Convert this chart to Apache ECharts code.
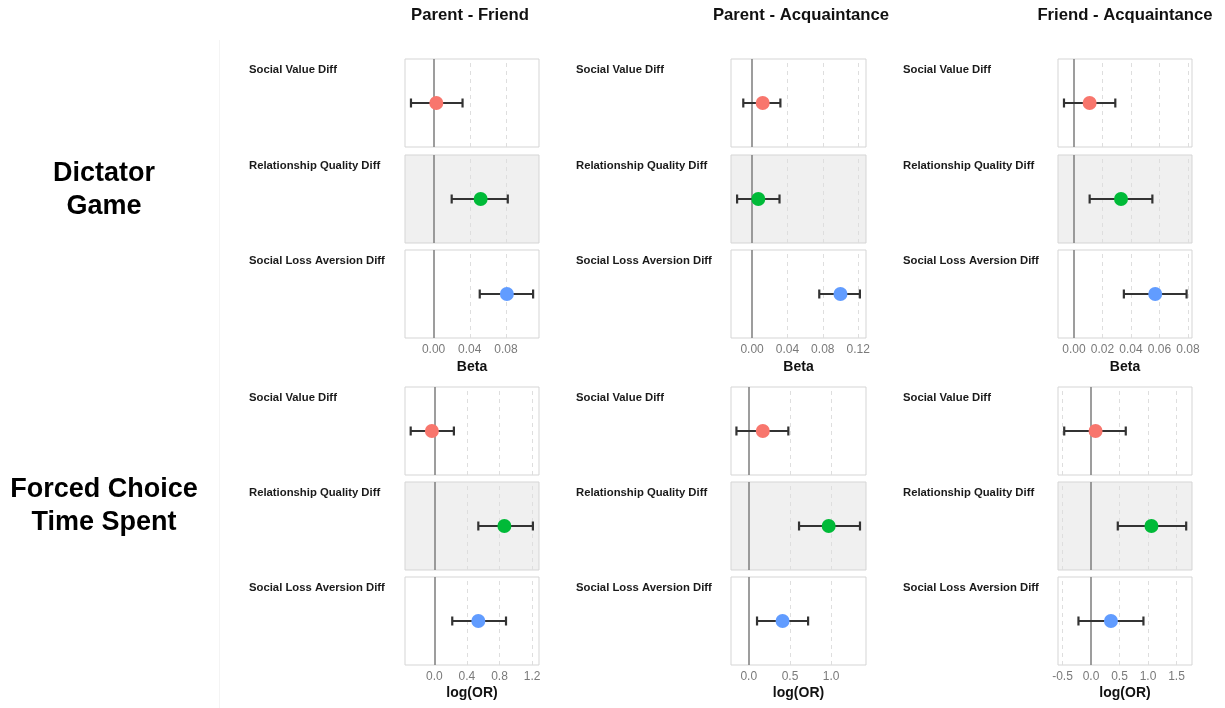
<!DOCTYPE html>
<html>
<head>
<meta charset="utf-8">
<title>Relationship difference effects</title>
<script src="https://cdn.jsdelivr.net/npm/echarts@6/dist/echarts.min.js"></script>
<style>
  html, body { margin: 0; padding: 0; background: #ffffff; }
  #chart { width: 1225px; height: 708px; }
</style>
</head>
<body>
<div id="chart"></div>
<script>
// Comparisons (columns), predictors (panels), outcome measures (rows)
const comparisons = ['Parent - Friend', 'Parent - Acquaintance', 'Friend - Acquaintance'];
const predictors = ['Social Value Diff', 'Relationship Quality Diff', 'Social Loss Aversion Diff'];
const outcomes = ['Dictator\nGame', 'Forced Choice\nTime Spent'];
const axisTitles = ['Beta', 'log(OR)'];
const pointColors = ['#F8766D', '#00BA38', '#619CFF'];

// Dictator Game: estimates and 95% intervals, [comparison][predictor]
const dgEstimate = [[0.003, 0.052, 0.081], [0.012, 0.007, 0.100], [0.011, 0.033, 0.057]];
const dgLower    = [[-0.025, 0.020, 0.051], [-0.010, -0.017, 0.076], [-0.007, 0.011, 0.035]];
const dgUpper    = [[0.032, 0.082, 0.110], [0.032, 0.031, 0.122], [0.029, 0.055, 0.079]];

// Forced Choice Time Spent: log odds ratios and 95% intervals
const fcEstimate = [[-0.03, 0.86, 0.54], [0.17, 0.97, 0.41], [0.08, 1.06, 0.35]];
const fcLower    = [[-0.29, 0.54, 0.22], [-0.15, 0.61, 0.10], [-0.47, 0.47, -0.22]];
const fcUpper    = [[0.24, 1.21, 0.88], [0.48, 1.35, 0.72], [0.61, 1.67, 0.92]];

// Axis limits and tick values per comparison
const dgLimits = [[-0.0316, 0.1165], [-0.0239, 0.1289], [-0.0112, 0.0828]];
const fcLimits = [[-0.36, 1.285], [-0.216, 1.423], [-0.579, 1.772]];
const dgTicks = [[0, 0.04, 0.08], [0, 0.04, 0.08, 0.12], [0, 0.02, 0.04, 0.06, 0.08]];
const fcTicks = [[0, 0.4, 0.8, 1.2], [0, 0.5, 1.0], [-0.5, 0, 0.5, 1.0, 1.5]];
const tickDecimals = [2, 1];

const FONT = 'Liberation Sans, Arial, Helvetica, sans-serif';

const estimates = [dgEstimate, fcEstimate];
const lowers = [dgLower, fcLower];
const uppers = [dgUpper, fcUpper];
const limits = [dgLimits, fcLimits];
const ticks = [dgTicks, fcTicks];

// Panel layout
const colLeft = [405, 731, 1058];
const colWidth = [134, 135, 134];
const labelLeft = [249, 576, 903];
const rowTops = [[59, 155, 250], [387, 482, 577]];
const panelHeight = 88;
const titleGaps = [22, 21];

const grids = [], xAxes = [], yAxes = [], series = [], graphics = [];

function errorBarItem(params, api) {
  const y = api.value(2);
  const a = api.coord([api.value(0), y]);
  const b = api.coord([api.value(1), y]);
  const cap = 4.5;
  const st = { stroke: '#333333', lineWidth: 2.2 };
  return {
    type: 'group',
    children: [
      { type: 'line', shape: { x1: a[0], y1: a[1], x2: b[0], y2: b[1] }, style: st },
      { type: 'line', shape: { x1: a[0], y1: a[1] - cap, x2: a[0], y2: a[1] + cap }, style: st },
      { type: 'line', shape: { x1: b[0], y1: b[1] - cap, x2: b[0], y2: b[1] + cap }, style: st }
    ]
  };
}

for (let r = 0; r < 2; r++) {
  for (let c = 0; c < 3; c++) {
    for (let m = 0; m < 3; m++) {
      const gi = grids.length;
      const top = rowTops[r][m];
      grids.push({
        left: colLeft[c], top: top, width: colWidth[c], height: panelHeight,
        show: true,
        backgroundColor: m === 1 ? '#F0F0F0' : '#FFFFFF',
        borderColor: '#D5D5D5', borderWidth: 1
      });
      const isBottom = m === 2;
      const tv = ticks[r][c];
      xAxes.push({
        type: 'value', gridIndex: gi,
        min: limits[r][c][0], max: limits[r][c][1],
        axisLine: { show: false },
        axisTick: { show: false },
        splitLine: { show: false },
        axisLabel: {
          show: isBottom,
          customValues: tv,
          margin: 6,
          color: '#7A7A7A', fontSize: 12, fontFamily: FONT,
          formatter: v => Number(v).toFixed(tickDecimals[r])
        },
        name: isBottom ? axisTitles[r] : '',
        nameLocation: 'middle', nameGap: titleGaps[r],
        nameTextStyle: { color: '#111111', fontSize: 14, fontWeight: 'bold', fontFamily: FONT }
      });
      yAxes.push({ type: 'value', gridIndex: gi, min: 0, max: 1, show: false });

      // Reference lines: dashed at ticks, solid at zero
      const refLines = tv.filter(v => v !== 0).map(v => ({
        xAxis: v,
        lineStyle: { color: '#DEDEDE', width: 1, type: [4, 4] }
      }));
      refLines.push({ xAxis: 0, lineStyle: { color: '#858585', width: 1.6, type: 'solid' } });
      series.push({
        type: 'scatter', xAxisIndex: gi, yAxisIndex: gi, z: 1,
        symbolSize: 0, silent: true,
        data: [[0, 0.5]],
        markLine: { silent: true, z: 1, symbol: 'none', label: { show: false }, data: refLines }
      });

      series.push({
        type: 'custom', xAxisIndex: gi, yAxisIndex: gi, z: 2, silent: true,
        renderItem: errorBarItem,
        encode: { x: [0, 1], y: 2 },
        data: [[lowers[r][c][m], uppers[r][c][m], 0.5]]
      });
      series.push({
        type: 'scatter', xAxisIndex: gi, yAxisIndex: gi, z: 3, silent: true,
        symbol: 'circle', symbolSize: 14,
        itemStyle: { color: pointColors[m], opacity: 1 },
        data: [[estimates[r][c][m], 0.5]]
      });

      graphics.push({
        type: 'text', left: labelLeft[c], top: top + 5,
        style: {
          text: predictors[m], fill: '#1A1A1A',
          font: 'bold 11.3px ' + FONT
        }
      });
    }
  }
}

// Column headers
const headerCenters = [470, 801, 1125];
comparisons.forEach((t, c) => {
  graphics.push({
    type: 'text', x: headerCenters[c], y: 15,
    style: { text: t, fill: '#111111', font: 'bold 16.7px ' + FONT, textAlign: 'center', textVerticalAlign: 'middle' }
  });
});

// Row headers
const outcomeCenters = [190, 506];
outcomes.forEach((t, r) => {
  graphics.push({
    type: 'text', x: 104, y: outcomeCenters[r],
    style: { text: t, fill: '#000000', font: 'bold 27px ' + FONT, lineHeight: 33, textAlign: 'center', textVerticalAlign: 'middle' }
  });
});

// Faint divider left of the panels
graphics.push({
  type: 'line', shape: { x1: 219.5, y1: 40, x2: 219.5, y2: 708 },
  style: { stroke: '#F4F4F4', lineWidth: 1 }
});

const chart = echarts.init(document.getElementById('chart'), null, { renderer: 'canvas' });
chart.setOption({
  animation: false,
  backgroundColor: '#FFFFFF',
  grid: grids,
  xAxis: xAxes,
  yAxis: yAxes,
  series: series,
  graphic: graphics
});
</script>
</body>
</html>
